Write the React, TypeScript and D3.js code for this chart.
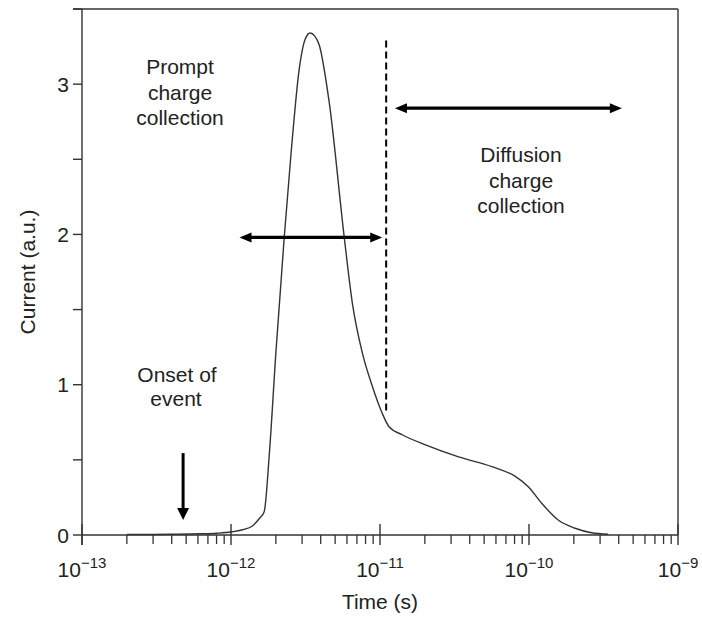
import React from "react";
import * as d3 from "d3";

// ---- data ----
const timeS = [
  2e-13, 4e-13, 6.2e-13, 8e-13, 1e-12, 1.2e-12, 1.39e-12, 1.55e-12, 1.67e-12,
  1.81e-12, 2.0e-12, 2.28e-12, 2.53e-12, 2.87e-12, 3.15e-12, 3.4e-12, 3.65e-12,
  3.91e-12, 4.56e-12, 5.74e-12, 6.53e-12, 7.62e-12, 8.88e-12, 1.035e-11,
  1.15e-11, 1.41e-11, 2.02e-11, 3.37e-11, 5.64e-11, 8.09e-11, 9.93e-11,
  1.22e-10, 1.57e-10, 2.04e-10, 2.63e-10, 3.4e-10,
];
const current = [
  0.003, 0.005, 0.008, 0.012, 0.02, 0.035, 0.06, 0.11, 0.155, 0.545, 1.21,
  1.99, 2.54, 3.1, 3.3, 3.34, 3.32, 3.26, 2.88, 1.99, 1.54, 1.21, 0.99, 0.81,
  0.72, 0.667, 0.6, 0.52, 0.455, 0.39, 0.32, 0.21, 0.1, 0.045, 0.015, 0.005,
];
const xTickExponents = [-13, -12, -11, -10, -9];
const yTickValues = [0, 1, 2, 3];
const yMinorValues = [0.5, 1.5, 2.5, 3.5];

// annotation anchors (data units)
const boundaryTime = 1.1e-11;
const boundaryRange = [0.82, 3.29];
const promptArrow = { t0: 1.14e-12, t1: 1.035e-11, i: 1.98 };
const diffusionArrow = { t0: 1.26e-11, t1: 4.2e-10, i: 2.84 };
const onsetArrow = { t: 4.77e-13, i0: 0.545, i1: 0.1 };

const W = 702;
const H = 617;
const FONT = "'Liberation Sans', Arial, Helvetica, sans-serif";
const AX = "#333";

export default function App() {
  const x = d3.scaleLog().domain([1e-13, 1e-9]).range([82, 678]);
  const y = d3.scaleLinear().domain([0, 3.5]).range([535, 9]);

  const pts: [number, number][] = timeS.map((t, i) => [t, current[i]]);
  const line = d3
    .line<[number, number]>()
    .x((d) => x(d[0]))
    .y((d) => y(d[1]))
    .curve(d3.curveMonotoneX);

  const minorTicks: number[] = [];
  for (let e = -13; e < -9; e++) {
    for (let m = 2; m <= 9; m++) minorTicks.push(m * Math.pow(10, e));
  }

  const x0 = x.range()[0];
  const x1 = x.range()[1];
  const y0 = y.range()[0];
  const y1 = y.range()[1];

  const hArrow = (xa: number, xb: number, yy: number, key: string) => {
    const L = 12;
    const hw = 5;
    return (
      <g key={key}>
        <line x1={xa + L - 2} x2={xb - L + 2} y1={yy} y2={yy} stroke="#000" strokeWidth={3.2} />
        <path d={`M${xa},${yy} L${xa + L},${yy - hw} L${xa + L},${yy + hw} Z`} fill="#000" />
        <path d={`M${xb},${yy} L${xb - L},${yy - hw} L${xb - L},${yy + hw} Z`} fill="#000" />
      </g>
    );
  };

  const ox = x(onsetArrow.t);
  const oTop = y(onsetArrow.i0);
  const oTip = y(onsetArrow.i1);

  return (
    <svg
      width={W}
      height={H}
      style={{ position: "absolute", left: 0, top: 0, background: "#fff" }}
      fontFamily={FONT}
    >
      <rect width={W} height={H} fill="#fff" />
      {/* frame */}
      <line x1={x0} x2={x0} y1={y1} y2={y0 + 10} stroke={AX} strokeWidth={1.4} />
      <line x1={x1} x2={x1} y1={y1} y2={y0} stroke={AX} strokeWidth={1.4} />
      <line x1={x0} x2={x1} y1={y0} y2={y0} stroke={AX} strokeWidth={1.4} />
      <line x1={x0 - 9} x2={x1} y1={y1} y2={y1} stroke={AX} strokeWidth={1.4} />

      {/* y ticks */}
      {yTickValues.map((v) => (
        <g key={"yt" + v}>
          <line x1={x0 - 9} x2={x0} y1={y(v)} y2={y(v)} stroke={AX} strokeWidth={1.4} />
          <text x={x0 - 13} y={y(v)} dy="0.36em" textAnchor="end" fontSize={21} fill="#222">
            {v}
          </text>
        </g>
      ))}
      {yMinorValues.map((v) => (
        <line key={"ym" + v} x1={x0 - 9} x2={x0} y1={y(v)} y2={y(v)} stroke={AX} strokeWidth={1.4} />
      ))}

      {/* x ticks */}
      {xTickExponents.map((e) => {
        const xx = x(Math.pow(10, e));
        return (
          <g key={"xt" + e}>
            <line x1={xx} x2={xx} y1={y0 - 11} y2={y0 + 10} stroke={AX} strokeWidth={1.4} />
            <text x={xx} y={577} textAnchor="middle" fontSize={21} fill="#222">
              10
              <tspan dy={-9} fontSize={15}>
                {"\u2212" + Math.abs(e)}
              </tspan>
            </text>
          </g>
        );
      })}
      {minorTicks.map((t, i) => (
        <line key={"xm" + i} x1={x(t)} x2={x(t)} y1={y0} y2={y0 + 9} stroke={AX} strokeWidth={1.3} />
      ))}

      {/* axis titles */}
      <text x={(x0 + x1) / 2} y={609} textAnchor="middle" fontSize={21} fill="#222">
        Time (s)
      </text>
      <text
        transform={`translate(35,${(y0 + y1) / 2}) rotate(-90)`}
        textAnchor="middle"
        fontSize={21}
        fill="#222"
      >
        Current (a.u.)
      </text>

      {/* curve */}
      <path d={line(pts) || ""} fill="none" stroke="#333" strokeWidth={1.4} />

      {/* boundary dashed line */}
      <line
        x1={x(boundaryTime)}
        x2={x(boundaryTime)}
        y1={y(boundaryRange[1])}
        y2={y(boundaryRange[0])}
        stroke="#000"
        strokeWidth={2}
        strokeDasharray="7,4"
      />

      {hArrow(x(promptArrow.t0), x(promptArrow.t1), y(promptArrow.i), "pa")}
      {hArrow(x(diffusionArrow.t0), x(diffusionArrow.t1), y(diffusionArrow.i), "da")}

      {/* onset arrow */}
      <line x1={ox} x2={ox} y1={oTop} y2={oTip - 10} stroke="#000" strokeWidth={3} />
      <path d={`M${ox},${oTip} L${ox - 6},${oTip - 12} L${ox + 6},${oTip - 12} Z`} fill="#000" />

      {/* labels */}
      <text textAnchor="middle" fontSize={21} fill="#222">
        <tspan x={180} y={74}>Prompt</tspan>
        <tspan x={180} y={99.5}>charge</tspan>
        <tspan x={180} y={125}>collection</tspan>
      </text>
      <text textAnchor="middle" fontSize={21} fill="#222">
        <tspan x={521} y={162}>Diffusion</tspan>
        <tspan x={521} y={187.5}>charge</tspan>
        <tspan x={521} y={213}>collection</tspan>
      </text>
      <text textAnchor="middle" fontSize={21} fill="#222">
        <tspan x={177} y={382}>Onset of</tspan>
        <tspan x={176} y={406}>event</tspan>
      </text>
    </svg>
  );
}
